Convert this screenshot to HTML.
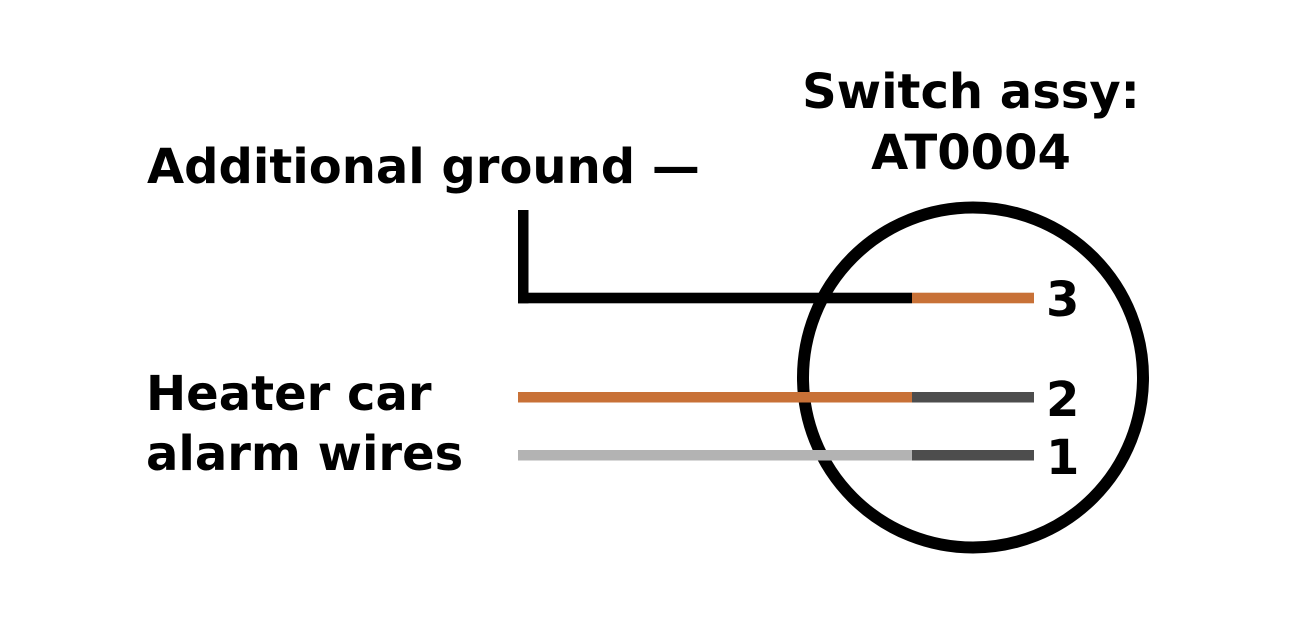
<!DOCTYPE html>
<html>
<head>
<meta charset="utf-8">
<style>
  html, body { margin:0; padding:0; background:#ffffff; }
  body { width:1299px; height:624px; overflow:hidden; }
  svg { display:block; }
  text { font-family: "DejaVu Sans", "Liberation Sans", sans-serif; font-weight: bold; font-size: 48px; fill:#000; }
</style>
</head>
<body>
<svg width="1299" height="624" viewBox="0 0 1299 624" xmlns="http://www.w3.org/2000/svg">
  <rect x="0" y="0" width="1299" height="624" fill="#ffffff"/>

  <!-- circle -->
  <circle cx="973" cy="377.5" r="170" fill="none" stroke="#000" stroke-width="12"/>

  <!-- ground wire -->
  <rect x="518" y="210" width="10.5" height="93.3" fill="#000"/>
  <rect x="518" y="292.7" width="394" height="10.6" fill="#000"/>
  <rect x="912" y="292.7" width="122" height="10.6" fill="#C87137"/>

  <!-- wire 2 -->
  <rect x="518" y="392" width="394" height="10.5" fill="#C87137"/>
  <rect x="912" y="392" width="122" height="10.5" fill="#4D4D4D"/>

  <!-- wire 1 -->
  <rect x="518" y="450" width="394" height="10.5" fill="#B3B3B3"/>
  <rect x="912" y="450" width="122" height="10.5" fill="#4D4D4D"/>

  <!-- labels -->
  <text x="147" y="183">Additional ground —</text>
  <text x="971" y="108" text-anchor="middle">Switch assy:</text>
  <text x="971" y="169" text-anchor="middle">AT0004</text>
  <text x="146" y="410">Heater car</text>
  <text x="146" y="470">alarm wires</text>
  <text x="1046" y="316">3</text>
  <text x="1046" y="416">2</text>
  <text x="1046" y="474">1</text>
</svg>
</body>
</html>
